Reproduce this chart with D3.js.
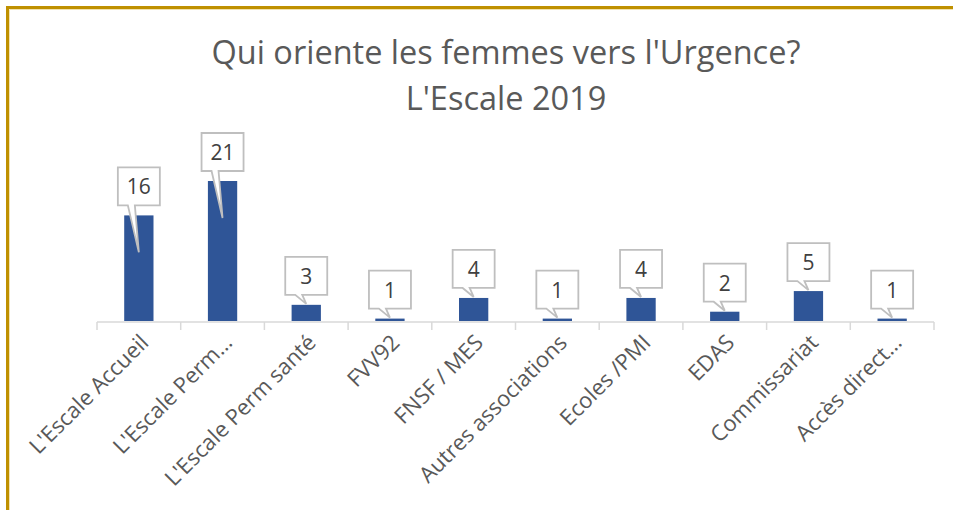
<!DOCTYPE html>
<html>
<head>
<meta charset="utf-8">
<script src="https://cdn.jsdelivr.net/npm/d3@7"></script>
<style>
    html, body { margin: 0; padding: 0; background: #fff; }
    svg { display: block; }
    text { font-family: "Open Sans", "Noto Sans", sans-serif; }
</style>
</head>
<body>
<div id="chart"></div>
<script>
const titleLines = ['Qui oriente les femmes vers l\'Urgence?', 'L\'Escale 2019'];
const categories = ['L\'Escale Accueil', 'L\'Escale Perm…', 'L\'Escale Perm santé', 'FVV92', 'FNSF / MES',
    'Autres associations', 'Ecoles /PMI', 'EDAS', 'Commissariat', 'Accès direct…'];
const values = [16, 21, 3, 1, 4, 1, 4, 2, 5, 1];

const width = 953;
const height = 510;
const margins = {left: 97, right: 19, baseline: 321};

const svg = d3.select('#chart')
    .append('svg')
    .attr('width', width)
    .attr('height', height);

// gold frame (only top and left edges are in view)
svg.append('path')
    .attr('d', `M7.5,${height} V7.5 H${width}`)
    .attr('fill', 'none')
    .attr('stroke', '#bf9000')
    .attr('stroke-width', 3);
svg.append('path')
    .attr('d', `M9.5,${height} V9.5 H${width}`)
    .attr('fill', 'none')
    .attr('stroke', '#f3e3b0')
    .attr('stroke-width', 1);

svg.selectAll('.title')
    .data(titleLines)
    .enter()
    .append('text')
    .attr('class', 'title')
    .attr('x', 506)
    .attr('y', (d, i) => 64 + i * 46)
    .attr('text-anchor', 'middle')
    .attr('fill', '#595959')
    .style('font-size', '32.5px')
    .text(d => d);

const x = d3.scaleBand()
    .domain(categories)
    .range([margins.left, width - margins.right])
    .paddingInner(0.65)
    .paddingOuter(0.325);

// axis floor sits a little above zero, so the small bars look shorter
const y = d3.scaleLinear()
    .domain([0.65, 21])
    .range([margins.baseline, 181]);

const data = categories.map((c, i) => ({category: c, value: values[i]}));

svg.append('g')
    .selectAll('rect')
    .data(data)
    .enter()
    .append('rect')
    .attr('x', d => x(d.category))
    .attr('y', d => y(d.value))
    .attr('width', x.bandwidth())
    .attr('height', d => y.range()[0] - y(d.value))
    .attr('fill', '#2f5597');

// x axis with ticks between categories
const step = x.step();
const axis = svg.append('g').attr('class', 'x-axis');
axis.append('line')
    .attr('x1', margins.left).attr('x2', width - margins.right)
    .attr('y1', 322).attr('y2', 322)
    .attr('stroke', '#d9d9d9').attr('stroke-width', 1.5);
axis.selectAll('.tick')
    .data(d3.range(categories.length + 1))
    .enter()
    .append('line')
    .attr('x1', i => margins.left + i * step)
    .attr('x2', i => margins.left + i * step)
    .attr('y1', 322).attr('y2', 330)
    .attr('stroke', '#d9d9d9').attr('stroke-width', 1.5);

axis.selectAll('.label')
    .data(categories)
    .enter()
    .append('text')
    .attr('class', 'label')
    .attr('transform', c => `translate(${x(c) + x.bandwidth() / 2 + 11}, 344) rotate(-45)`)
    .attr('text-anchor', 'end')
    .attr('fill', '#595959')
    .style('font-size', '22px')
    .text(c => c);

// callout labels
const boxW = 42;
const boxH = 38;
const callouts = svg.append('g')
    .selectAll('g')
    .data(data)
    .enter()
    .append('g');

callouts.append('path')
    .attr('d', d => {
        const cx = x(d.category) + x.bandwidth() / 2;
        const top = y(d.value);
        const barH = y.range()[0] - top;
        const bottom = top - 10;
        const tipY = barH > 60 ? top + 37 : top - 1;
        const l = cx - boxW / 2;
        const r = cx + boxW / 2;
        return `M${l},${bottom - boxH} H${r} V${bottom} H${cx - 4} L${cx},${tipY} L${cx - 11},${bottom} H${l} Z`;
    })
    .attr('fill', '#fff')
    .attr('stroke', '#bfbfbf')
    .attr('stroke-width', 1.8)
    .attr('stroke-linejoin', 'miter');

callouts.append('text')
    .attr('x', d => x(d.category) + x.bandwidth() / 2)
    .attr('y', d => y(d.value) - 10 - boxH / 2 + 8)
    .attr('text-anchor', 'middle')
    .attr('fill', '#404040')
    .style('font-size', '21px')
    .text(d => d.value);
</script>
</body>
</html>
